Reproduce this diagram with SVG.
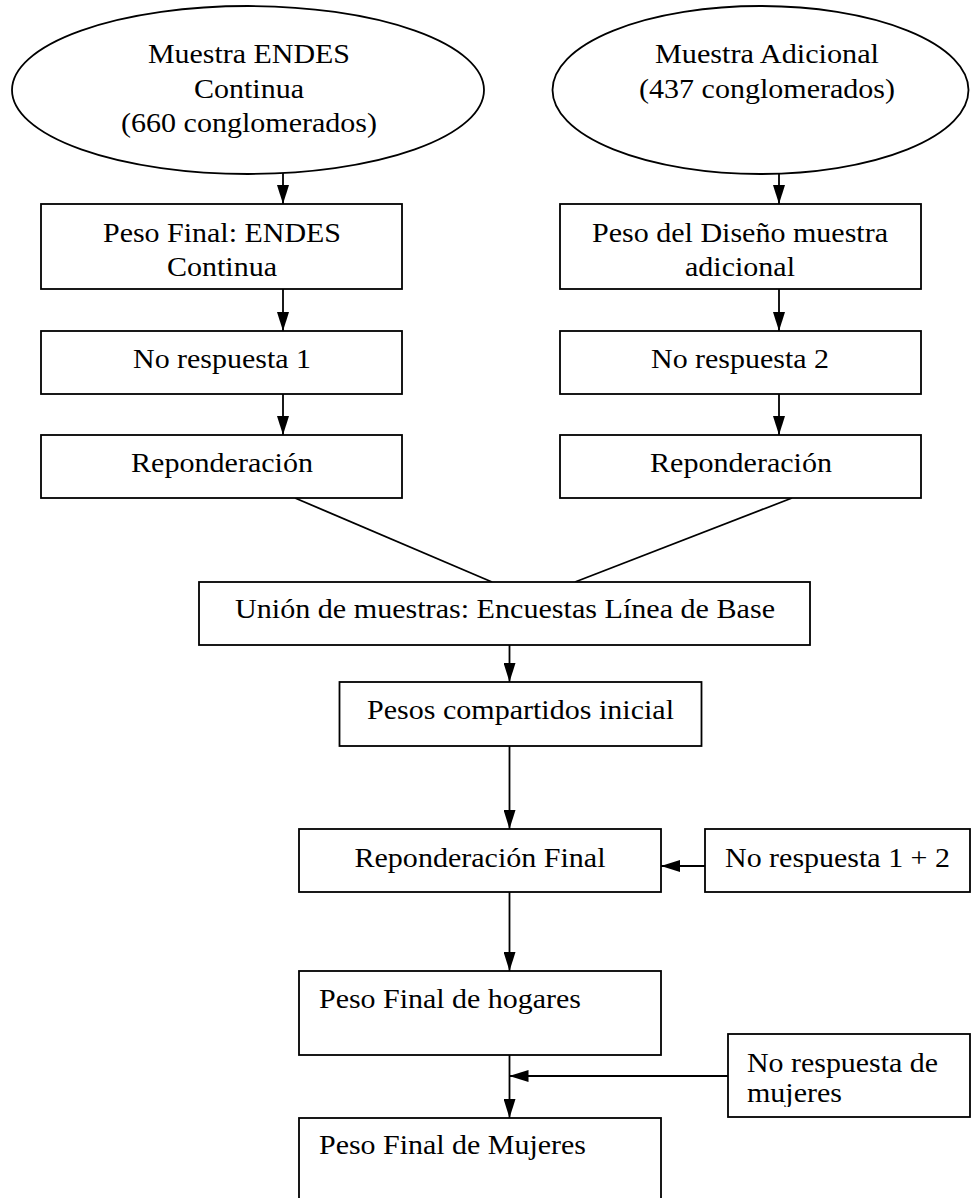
<svg xmlns="http://www.w3.org/2000/svg" width="972" height="1198" viewBox="0 0 972 1198">
<style>
.s{fill:#fff;stroke:#000;stroke-width:1.8}
.t{font-family:'Liberation Serif','Times New Roman',Times,serif;font-size:27px;fill:#000}
.c{text-anchor:middle}
.ln{fill:none;stroke:#000;stroke-width:1.8}
</style>
<defs>
<marker id="ah" viewBox="0 0 19 12" refX="19" refY="6" markerWidth="19" markerHeight="12" markerUnits="userSpaceOnUse" orient="auto">
<path d="M0,0 L19,6 L0,12 z" fill="#000"/>
</marker>
<clipPath id="clipMuj"><rect x="728" y="1034" width="244" height="73"/></clipPath>
</defs>
<rect width="972" height="1198" fill="#fff"/>
<g id="connectors">
<line class="ln" x1="283" y1="173" x2="283" y2="204" marker-end="url(#ah)"/>
<line class="ln" x1="283" y1="289" x2="283" y2="331" marker-end="url(#ah)"/>
<line class="ln" x1="283" y1="394" x2="283" y2="435" marker-end="url(#ah)"/>
<line class="ln" x1="779" y1="174" x2="779" y2="204" marker-end="url(#ah)"/>
<line class="ln" x1="779" y1="289" x2="779" y2="331" marker-end="url(#ah)"/>
<line class="ln" x1="779" y1="394" x2="779" y2="435" marker-end="url(#ah)"/>
<line class="ln" x1="295" y1="498" x2="492" y2="582"/>
<line class="ln" x1="792" y1="498" x2="575" y2="582"/>
<line class="ln" x1="509.5" y1="645" x2="509.5" y2="682" marker-end="url(#ah)"/>
<line class="ln" x1="509.5" y1="746" x2="509.5" y2="829" marker-end="url(#ah)"/>
<line class="ln" x1="705" y1="866" x2="661" y2="866" marker-end="url(#ah)"/>
<line class="ln" x1="509.5" y1="892" x2="509.5" y2="971" marker-end="url(#ah)"/>
<line class="ln" x1="509.5" y1="1055" x2="509.5" y2="1118" marker-end="url(#ah)"/>
<line class="ln" x1="728" y1="1076" x2="509.5" y2="1076" marker-end="url(#ah)"/>
</g>
<g id="n-endes">
<ellipse class="s" cx="248" cy="90" rx="236" ry="84"/>
<text class="t c" x="249" y="63" textLength="202" lengthAdjust="spacingAndGlyphs">Muestra ENDES</text>
<text class="t c" x="249" y="98" textLength="110" lengthAdjust="spacingAndGlyphs">Continua</text>
<text class="t c" x="249" y="132" textLength="256" lengthAdjust="spacingAndGlyphs">(660 conglomerados)</text>
</g>
<g id="n-adicional">
<ellipse class="s" cx="760.5" cy="90" rx="208" ry="84"/>
<text class="t c" x="767" y="63" textLength="224" lengthAdjust="spacingAndGlyphs">Muestra Adicional</text>
<text class="t c" x="767" y="98" textLength="256" lengthAdjust="spacingAndGlyphs">(437 conglomerados)</text>
</g>
<g id="n-pesofinal-endes">
<rect class="s" x="41" y="204" width="361" height="85"/>
<text class="t c" x="222" y="242" textLength="238" lengthAdjust="spacingAndGlyphs">Peso Final: ENDES</text>
<text class="t c" x="222" y="276" textLength="110" lengthAdjust="spacingAndGlyphs">Continua</text>
</g>
<g id="n-pesodiseno">
<rect class="s" x="560" y="204" width="361" height="85"/>
<text class="t c" x="740" y="242" textLength="296" lengthAdjust="spacingAndGlyphs">Peso del Diseño muestra</text>
<text class="t c" x="740" y="276" textLength="110" lengthAdjust="spacingAndGlyphs">adicional</text>
</g>
<g id="n-norespuesta1">
<rect class="s" x="41" y="331" width="361" height="63"/>
<text class="t c" x="222" y="368" textLength="178" lengthAdjust="spacingAndGlyphs">No respuesta 1</text>
</g>
<g id="n-norespuesta2">
<rect class="s" x="560" y="331" width="361" height="63"/>
<text class="t c" x="740" y="368" textLength="178" lengthAdjust="spacingAndGlyphs">No respuesta 2</text>
</g>
<g id="n-repond1">
<rect class="s" x="41" y="435" width="361" height="63"/>
<text class="t c" x="222" y="472" textLength="182" lengthAdjust="spacingAndGlyphs">Reponderación</text>
</g>
<g id="n-repond2">
<rect class="s" x="560" y="435" width="361" height="63"/>
<text class="t c" x="741" y="472" textLength="182" lengthAdjust="spacingAndGlyphs">Reponderación</text>
</g>
<g id="n-union">
<rect class="s" x="199" y="582" width="611" height="63"/>
<text class="t c" x="505" y="618" textLength="540" lengthAdjust="spacingAndGlyphs">Unión de muestras: Encuestas Línea de Base</text>
</g>
<g id="n-pesoscomp">
<rect class="s" x="339.5" y="682" width="362" height="64"/>
<text class="t c" x="520.5" y="719" textLength="307" lengthAdjust="spacingAndGlyphs">Pesos compartidos inicial</text>
</g>
<g id="n-repondfinal">
<rect class="s" x="299" y="829" width="362" height="63"/>
<text class="t c" x="480" y="867" textLength="251" lengthAdjust="spacingAndGlyphs">Reponderación Final</text>
</g>
<g id="n-norespuesta12">
<rect class="s" x="705" y="829" width="265" height="63"/>
<text class="t c" x="837.5" y="867" textLength="225" lengthAdjust="spacingAndGlyphs">No respuesta 1 + 2</text>
</g>
<g id="n-hogares">
<rect class="s" x="299" y="971" width="362" height="84"/>
<text class="t" x="319" y="1008" textLength="262" lengthAdjust="spacingAndGlyphs">Peso Final de hogares</text>
</g>
<g id="n-norespmujeres">
<rect class="s" x="728" y="1034" width="242" height="83"/>
<g clip-path="url(#clipMuj)">
<text class="t" x="747" y="1072" textLength="191" lengthAdjust="spacingAndGlyphs">No respuesta de</text>
<text class="t" x="747" y="1102" textLength="95" lengthAdjust="spacingAndGlyphs">mujeres</text>
</g>
</g>
<g id="n-mujeres">
<rect class="s" x="299" y="1118" width="362" height="100"/>
<text class="t" x="319" y="1154" textLength="267" lengthAdjust="spacingAndGlyphs">Peso Final de Mujeres</text>
</g>
</svg>
